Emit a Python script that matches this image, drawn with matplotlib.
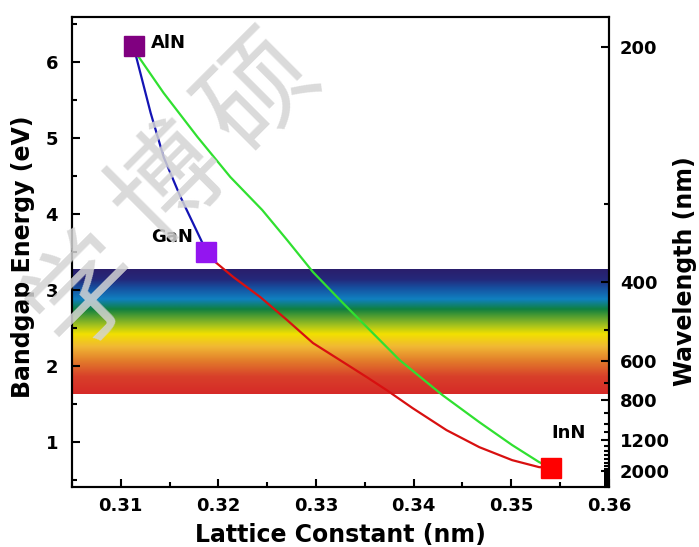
import numpy as np
import matplotlib.pyplot as plt
from matplotlib.colors import LinearSegmentedColormap

plt.rcParams['font.family'] = ['DejaVu Sans']
plt.rcParams['font.weight'] = 'bold'

# binary end points (lattice constant nm, bandgap eV)
names = ["AlN", "GaN", "InN"]
lattice = [0.31138, 0.31872, 0.35408]
bandgap = [6.21, 3.50, 0.665]
marker_colors = ['#800080', '#9315f0', '#ff0000']

# ternary curves
algan_a = [0.31138, 0.31153, 0.31306, 0.31439, 0.31612, 0.31837, 0.31872]
algan_e = [6.21, 6.092, 5.329, 4.750, 4.224, 3.618, 3.50]

ingan_a = [0.31872, 0.31969, 0.32153, 0.32429, 0.32704, 0.32969, 0.33245,
           0.33520, 0.33724, 0.33990, 0.34337, 0.34673, 0.35010, 0.35286,
           0.35408]
ingan_e = [3.50, 3.368, 3.171, 2.908, 2.605, 2.303, 2.079,
           1.855, 1.684, 1.447, 1.158, 0.934, 0.763, 0.671,
           0.665]

alinn_a = [0.31138, 0.31184, 0.31439, 0.31786, 0.32122, 0.32449, 0.32704,
           0.32969, 0.33276, 0.33582, 0.33857, 0.34296, 0.34673, 0.35010,
           0.35286, 0.35408]
alinn_e = [6.21, 6.066, 5.592, 5.013, 4.487, 4.053, 3.658,
           3.237, 2.829, 2.434, 2.079, 1.618, 1.263, 0.961,
           0.737, 0.665]

# visible band (nm) and its colours from violet (0) to red (1)
visible_nm = [380, 760]
spectrum_pos = [0.0, 0.08, 0.15, 0.24, 0.32, 0.45, 0.52, 0.62, 0.74, 0.86, 1.0]
spectrum_colors = ['#2a1e6c', '#24287a', '#1650a0', '#1080c0', '#0f8040',
                   '#a4c21e', '#f2e000', '#f0b834', '#e27a2a', '#d8402a',
                   '#d62a28']

wl_major = [200, 400, 600, 800, 1200, 2000]
wl_minor = [w for w in range(300, 3100, 100) if w not in wl_major]

# watermark characters and where they sit (figure fraction)
wm_chars = ['学', '博', '硕']
wm_x = [0.122, 0.243, 0.372]
wm_y = [0.466, 0.662, 0.830]


def main():
    fig = plt.figure(figsize=(6.99, 5.47), dpi=100)
    ax = fig.add_axes([0.103, 0.1097, 0.768, 0.859])

    xlim = (0.305, 0.36)
    ylim = (0.41, 6.59)

    # visible spectrum band
    cmap = LinearSegmentedColormap.from_list(
        'vis', list(zip(spectrum_pos, spectrum_colors)))
    grad = np.linspace(0, 1, 256).reshape(-1, 1)
    e_top = 1240.0 / visible_nm[0]
    e_bot = 1240.0 / visible_nm[1]
    ax.imshow(grad, cmap=cmap, aspect='auto', origin='upper',
              extent=[xlim[0], xlim[1], e_bot, e_top], zorder=1)

    ax.plot(algan_a, algan_e, color='#1414b4', lw=1.6, zorder=3)
    ax.plot(ingan_a, ingan_e, color='#d81010', lw=1.6, zorder=3)
    ax.plot(alinn_a, alinn_e, color='#30e030', lw=1.6, zorder=3)

    for a, e, c in zip(lattice, bandgap, marker_colors):
        ax.plot(a, e, marker='s', ms=14.5, color=c, mec=c, zorder=4)

    ax.text(0.3131, 6.25, names[0], ha='left', va='center', fontsize=13)
    ax.text(0.31735, 3.70, names[1], ha='right', va='center', fontsize=13)
    ax.text(0.35592, 1.12, names[2], ha='center', va='center', fontsize=13)

    ax.set_xlim(*xlim)
    ax.set_ylim(*ylim)
    ax.set_xticks(np.arange(0.31, 0.3601, 0.01))
    ax.set_xticks(np.arange(0.305, 0.3601, 0.005), minor=True)
    ax.set_yticks([1, 2, 3, 4, 5, 6])
    ax.set_yticks(np.arange(0.5, 6.6, 0.5), minor=True)
    ax.tick_params(which='both', direction='in', width=1.5, labelsize=13)
    ax.tick_params(which='major', length=6)
    ax.tick_params(which='minor', length=3.5)
    ax.tick_params(axis='x', pad=7.5)
    ax.tick_params(axis='y', pad=10)
    ax.set_xticklabels(['0.31', '0.32', '0.33', '0.34', '0.35', '0.36'])
    for s in ax.spines.values():
        s.set_linewidth(1.5)

    ax.set_xlabel('Lattice Constant (nm)', fontsize=17, fontweight='bold')
    ax.set_ylabel('Bandgap Energy (eV)', fontsize=17, fontweight='bold')
    ax.xaxis.set_label_coords(0.5, -0.077)
    ax.yaxis.set_label_coords(-0.069, 0.489)

    # wavelength axis, E = 1240 / lambda
    ax2 = ax.twinx()
    ax2.set_ylim(*ylim)
    ax2.set_yticks([1240.0 / w for w in wl_major])
    ax2.set_yticklabels([str(w) for w in wl_major])
    ax2.set_yticks([1240.0 / w for w in wl_minor], minor=True)
    ax2.tick_params(which='both', direction='in', width=1.5, labelsize=13,
                    pad=8)
    ax2.tick_params(which='major', length=6)
    ax2.tick_params(which='minor', length=3.5)
    ax2.set_ylabel('Wavelength (nm)', fontsize=17, fontweight='bold')
    ax2.yaxis.set_label_coords(1.119, 0.46)
    for s in ax2.spines.values():
        s.set_linewidth(1.5)

    # watermark
    for ch, x, y in zip(wm_chars, wm_x, wm_y):
        fig.text(x, y, ch, fontsize=80, rotation=45,
                 ha='center', va='center', color='#d4d4d4', alpha=0.85,
                 family=['Noto Sans CJK SC', 'DejaVu Sans'],
                 fontweight='normal', zorder=10)

    fig.savefig('out.png', dpi=100)


if __name__ == '__main__':
    main()
